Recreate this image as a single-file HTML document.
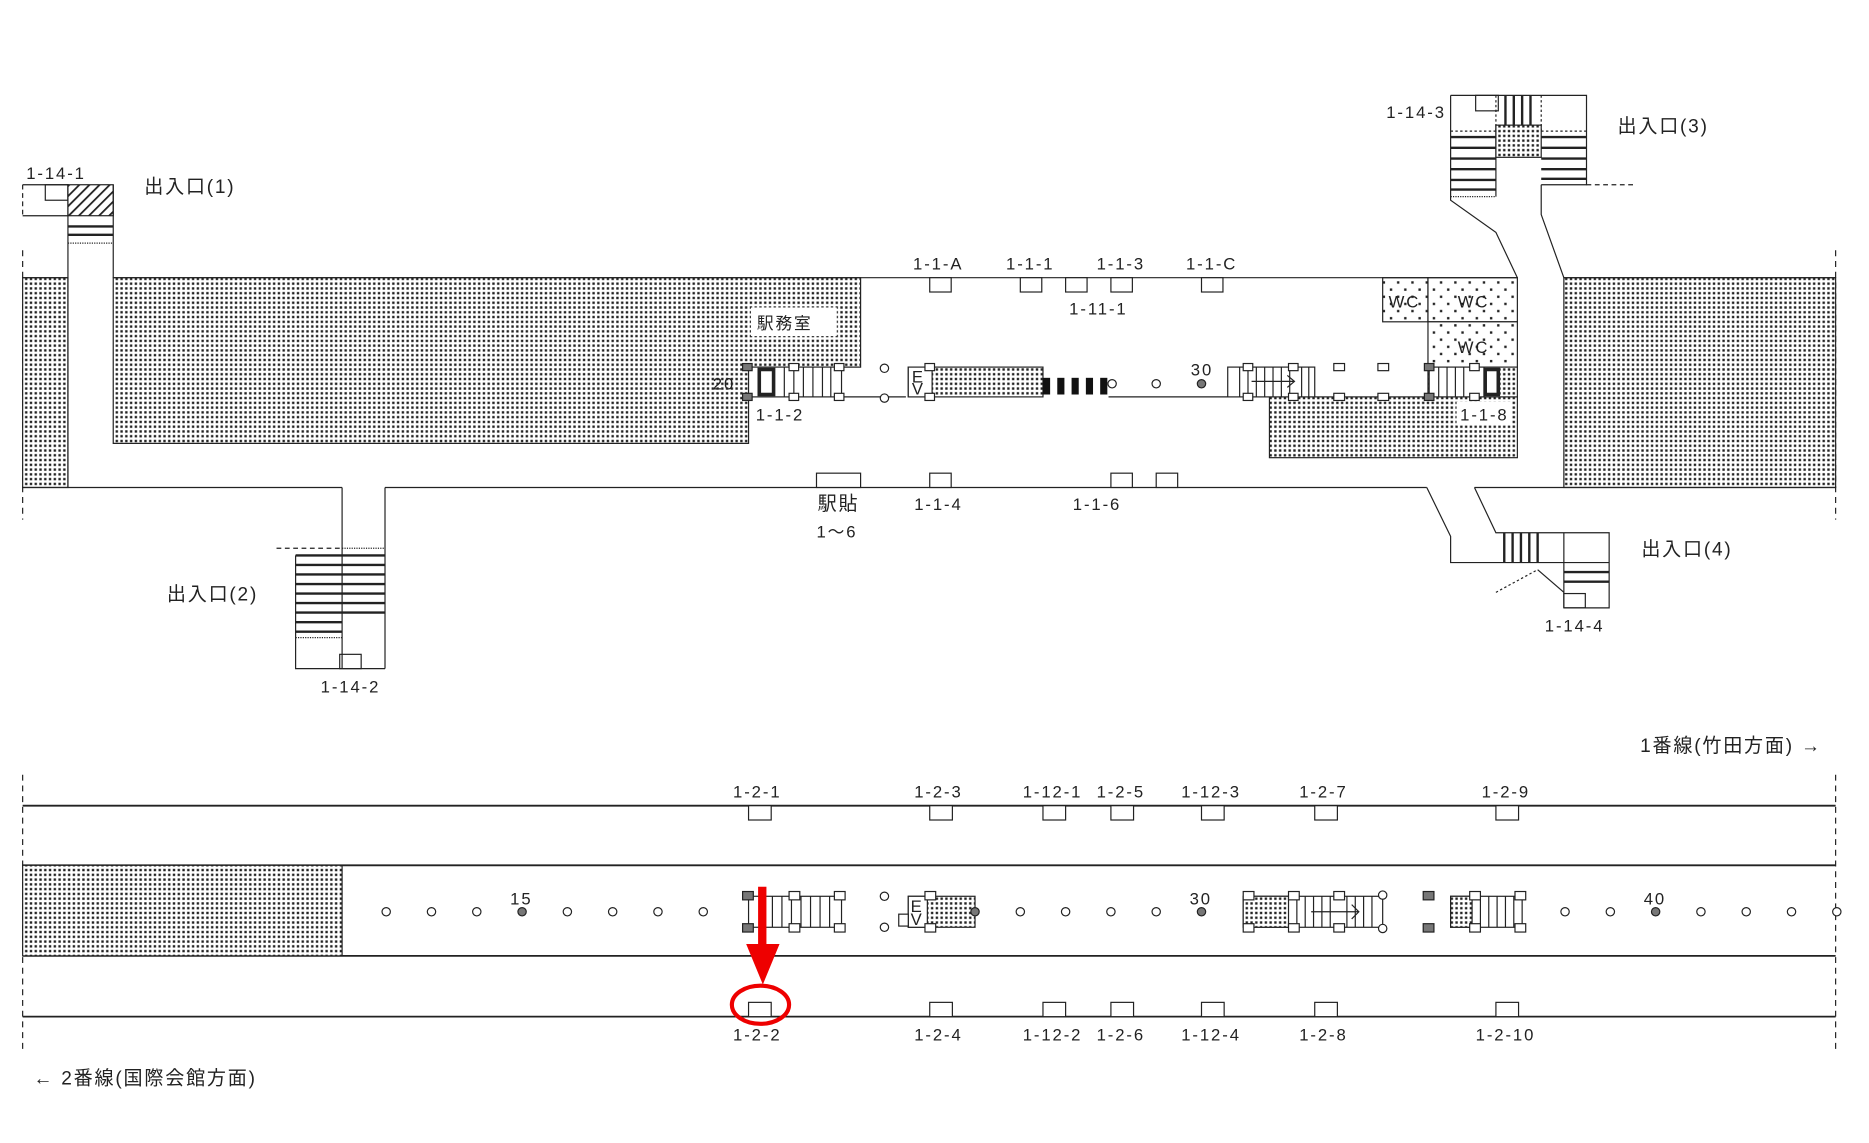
<!DOCTYPE html>
<html><head><meta charset="utf-8"><style>
html,body{margin:0;padding:0;background:#fff;}
svg{display:block;}
text{font-family:"Liberation Sans","Noto Sans CJK JP",sans-serif;font-size:14px;fill:#222;letter-spacing:1.6px;}
.j{font-size:16px;letter-spacing:1.5px;}
</style></head><body>
<svg width="1869" height="1143" viewBox="0 0 1568 959" preserveAspectRatio="none" xmlns="http://www.w3.org/2000/svg">
<defs>
<pattern id="d" width="4" height="4" patternUnits="userSpaceOnUse"><rect width="4" height="4" fill="#fff"/><rect x="1" y="1" width="2" height="2" fill="#222"/></pattern>
<pattern id="ld" width="12" height="12" patternUnits="userSpaceOnUse"><rect width="12" height="12" fill="#fff"/><rect x="2" y="2" width="2" height="2" fill="#222"/><rect x="8" y="8" width="2" height="2" fill="#222"/></pattern>
<pattern id="h" width="6" height="6" patternUnits="userSpaceOnUse" patternTransform="rotate(45)"><rect width="6" height="6" fill="#fff"/><rect width="1.5" height="6" fill="#222"/></pattern>
</defs>
<g stroke="#222" stroke-width="1" fill="none">
<line x1="19" y1="210" x2="19" y2="436" stroke-dasharray="5,4"/>
<line x1="1540" y1="210" x2="1540" y2="436" stroke-dasharray="5,4"/>
<rect x="19" y="233" width="38" height="176" fill="url(#d)"/>
<path d="M95 233 H722 V308 H628 V372 H95 Z" fill="url(#d)"/>
<rect x="1312" y="233" width="228" height="176" fill="url(#d)"/>
<rect x="1065" y="333" width="208" height="51" fill="url(#d)"/>
<rect x="1160" y="233" width="38" height="37" fill="url(#ld)"/>
<rect x="1198" y="233" width="75" height="37" fill="url(#ld)"/>
<rect x="1198" y="270" width="75" height="38" fill="url(#ld)"/>
<rect x="1198" y="308" width="75" height="25" fill="url(#d)"/>
<line x1="19" y1="233" x2="57" y2="233"/>
<line x1="95" y1="233" x2="1273" y2="233"/>
<line x1="1312" y1="233" x2="1540" y2="233"/>
<line x1="19" y1="409" x2="287" y2="409"/>
<line x1="323" y1="409" x2="1197" y2="409"/>
<line x1="1237" y1="409" x2="1540" y2="409"/>
<line x1="57" y1="181" x2="57" y2="409"/>
<line x1="705" y1="333" x2="760" y2="333"/>
<line x1="930" y1="333" x2="1065" y2="333"/>
<path d="M19 155 H57 V181 H19" />
<line x1="19" y1="155" x2="19" y2="181" stroke-dasharray="4,3"/>
<rect x="38" y="155" width="19" height="13"/>
<rect x="57" y="155" width="38" height="26" fill="url(#h)"/>
<line x1="95" y1="155" x2="95" y2="233"/>
<line x1="57" y1="190" x2="95" y2="190" stroke-width="2"/>
<line x1="57" y1="197" x2="95" y2="197" stroke-width="2"/>
<line x1="57" y1="204" x2="95" y2="204" stroke-dasharray="1,1"/>
<line x1="287" y1="409" x2="287" y2="561"/>
<line x1="323" y1="409" x2="323" y2="561"/>
<line x1="232" y1="460" x2="287" y2="460" stroke-dasharray="4,3"/>
<line x1="287" y1="460" x2="323" y2="460" stroke-dasharray="1,1"/>
<path d="M248 466 V561 H323"/>
<g stroke-width="2">
<line x1="248" y1="466" x2="323" y2="466"/><line x1="248" y1="474" x2="323" y2="474"/><line x1="248" y1="482" x2="323" y2="482"/><line x1="248" y1="490" x2="323" y2="490"/><line x1="248" y1="498" x2="323" y2="498"/><line x1="248" y1="506" x2="323" y2="506"/><line x1="248" y1="514" x2="323" y2="514"/><line x1="248" y1="522" x2="287" y2="522"/><line x1="248" y1="530" x2="287" y2="530"/>
</g>
<line x1="248" y1="535" x2="287" y2="535" stroke-dasharray="1,1"/>
<rect x="285" y="549" width="18" height="12"/>
<path d="M1217 80 H1331 V155 H1293"/>
<path d="M1217 80 V168 L1255 195 L1273 233"/>
<path d="M1293 155 V180 L1312 233"/>
<rect x="1238" y="80" width="19" height="13"/>
<line x1="1217" y1="110" x2="1331" y2="110" stroke-dasharray="2,2"/>
<line x1="1255" y1="80" x2="1255" y2="110" stroke-dasharray="2,2"/>
<line x1="1293" y1="80" x2="1293" y2="110" stroke-dasharray="2,2"/>
<g stroke-width="2"><line x1="1263" y1="80" x2="1263" y2="105"/><line x1="1270" y1="80" x2="1270" y2="105"/><line x1="1277" y1="80" x2="1277" y2="105"/><line x1="1284" y1="80" x2="1284" y2="105"/></g>
<rect x="1255" y="105" width="38" height="27" fill="url(#d)"/>
<line x1="1255" y1="105" x2="1255" y2="165"/>
<g stroke-width="2">
<line x1="1217" y1="115" x2="1255" y2="115"/><line x1="1217" y1="124" x2="1255" y2="124"/><line x1="1217" y1="133" x2="1255" y2="133"/><line x1="1217" y1="142" x2="1255" y2="142"/><line x1="1217" y1="151" x2="1255" y2="151"/><line x1="1217" y1="159" x2="1255" y2="159"/>
<line x1="1293" y1="115" x2="1331" y2="115"/><line x1="1293" y1="124" x2="1331" y2="124"/><line x1="1293" y1="133" x2="1331" y2="133"/><line x1="1293" y1="142" x2="1331" y2="142"/><line x1="1293" y1="150" x2="1331" y2="150"/>
</g>
<line x1="1217" y1="165" x2="1255" y2="165" stroke-dasharray="1,1"/>
<line x1="1331" y1="155" x2="1370" y2="155" stroke-dasharray="4,3"/>
<path d="M1197 409 L1217 450 V472 H1350"/>
<path d="M1237 409 L1255 447 H1350 V510 H1312"/>
<g stroke-width="2"><line x1="1262" y1="447" x2="1262" y2="472"/><line x1="1269" y1="447" x2="1269" y2="472"/><line x1="1276" y1="447" x2="1276" y2="472"/><line x1="1283" y1="447" x2="1283" y2="472"/><line x1="1290" y1="447" x2="1290" y2="472"/><line x1="1312" y1="480" x2="1350" y2="480" /><line x1="1312" y1="488" x2="1350" y2="488"/></g>
<line x1="1312" y1="447" x2="1312" y2="510"/>
<line x1="1255" y1="497" x2="1290" y2="478" stroke-dasharray="2,2"/>
<path d="M1290 478 L1312 497"/>
<rect x="1312" y="498" width="18" height="12"/>
<rect x="630" y="258" width="72" height="24" fill="#fff" stroke="none"/>
<rect x="1222" y="337" width="46" height="20" fill="#fff" stroke="none"/>
<rect x="780" y="233" width="18" height="12" fill="#fff"/>
<rect x="856" y="233" width="18" height="12" fill="#fff"/>
<rect x="894" y="233" width="18" height="12" fill="#fff"/>
<rect x="932" y="233" width="18" height="12" fill="#fff"/>
<rect x="1008" y="233" width="18" height="12" fill="#fff"/>
<rect x="685" y="397" width="37" height="12" fill="#fff"/>
<rect x="780" y="397" width="18" height="12" fill="#fff"/>
<rect x="932" y="397" width="18" height="12" fill="#fff"/>
<rect x="970" y="397" width="18" height="12" fill="#fff"/>
<rect x="628" y="308" width="78" height="25" fill="#fff"/>
<rect x="637" y="310" width="12" height="21" stroke-width="3"/>
<g><line x1="658" y1="308" x2="658" y2="333"/><line x1="666" y1="308" x2="666" y2="333"/><line x1="674" y1="308" x2="674" y2="333"/><line x1="682" y1="308" x2="682" y2="333"/><line x1="690" y1="308" x2="690" y2="333"/><line x1="697" y1="308" x2="697" y2="333"/></g>
<rect x="623" y="305" width="8" height="6" fill="#777"/><rect x="623" y="330" width="8" height="6" fill="#777"/>
<rect x="662" y="305" width="8" height="6" fill="#fff"/><rect x="662" y="330" width="8" height="6" fill="#fff"/>
<rect x="700" y="305" width="8" height="6" fill="#fff"/><rect x="700" y="330" width="8" height="6" fill="#fff"/>
<circle cx="742" cy="309" r="3.5" fill="#fff"/><circle cx="742" cy="334" r="3.5" fill="#fff"/>
<rect x="762" y="308" width="113" height="25" fill="url(#d)"/>
<rect x="762" y="308" width="20" height="25" fill="#fff"/>
<rect x="776" y="305" width="8" height="6" fill="#fff"/><rect x="776" y="330" width="8" height="6" fill="#fff"/>
<g fill="#111" stroke="none"><rect x="875" y="317" width="6" height="14"/><rect x="887" y="317" width="6" height="14"/><rect x="899" y="317" width="6" height="14"/><rect x="911" y="317" width="6" height="14"/><rect x="923" y="317" width="6" height="14"/></g>
<circle cx="933" cy="322" r="3.5" fill="#fff"/><circle cx="970" cy="322" r="3.5" fill="#fff"/><circle cx="1008" cy="322" r="3.5" fill="#777"/>
<rect x="1030" y="308" width="73" height="25" fill="#fff"/>
<g><line x1="1040" y1="308" x2="1040" y2="333"/><line x1="1047" y1="308" x2="1047" y2="333"/><line x1="1054" y1="308" x2="1054" y2="333"/><line x1="1061" y1="308" x2="1061" y2="333"/><line x1="1068" y1="308" x2="1068" y2="333"/><line x1="1075" y1="308" x2="1075" y2="333"/><line x1="1082" y1="308" x2="1082" y2="333"/><line x1="1092" y1="308" x2="1092" y2="333"/><line x1="1098" y1="308" x2="1098" y2="333"/></g>
<path d="M1050 320 H1086 M1080 315 L1086 320 L1080 325"/>
<rect x="1043" y="305" width="8" height="6" fill="#fff"/><rect x="1043" y="330" width="8" height="6" fill="#fff"/>
<rect x="1081" y="305" width="8" height="6" fill="#fff"/><rect x="1081" y="330" width="8" height="6" fill="#fff"/>
<rect x="1119" y="305" width="9" height="6" fill="#fff"/><rect x="1119" y="330" width="9" height="6" fill="#fff"/>
<rect x="1156" y="305" width="9" height="6" fill="#fff"/><rect x="1156" y="330" width="9" height="6" fill="#fff"/>
<rect x="1199" y="308" width="46" height="25" fill="#fff"/>
<g><line x1="1207" y1="308" x2="1207" y2="333"/><line x1="1214" y1="308" x2="1214" y2="333"/><line x1="1221" y1="308" x2="1221" y2="333"/><line x1="1228" y1="308" x2="1228" y2="333"/></g>
<rect x="1246" y="310" width="11" height="21" stroke-width="3" fill="#fff"/>
<rect x="1195" y="305" width="8" height="6" fill="#777"/><rect x="1195" y="330" width="8" height="6" fill="#777"/>
<rect x="1233" y="305" width="8" height="6" fill="#fff"/><rect x="1233" y="330" width="8" height="6" fill="#fff"/>

<line x1="19" y1="650" x2="19" y2="880" stroke-dasharray="5,4"/>
<line x1="1540" y1="650" x2="1540" y2="880" stroke-dasharray="5,4"/>
<line x1="19" y1="676" x2="1540" y2="676" stroke-width="1.5"/>
<line x1="19" y1="726" x2="1540" y2="726" stroke-width="1.5"/>
<line x1="19" y1="802" x2="1540" y2="802" stroke-width="1.5"/>
<line x1="19" y1="853" x2="1540" y2="853" stroke-width="1.5"/>
<rect x="19" y="726" width="268" height="76" fill="url(#d)"/>
<g fill="#fff">
<rect x="628" y="676" width="19" height="12"/><rect x="780" y="676" width="19" height="12"/><rect x="875" y="676" width="19" height="12"/><rect x="932" y="676" width="19" height="12"/><rect x="1008" y="676" width="19" height="12"/><rect x="1103" y="676" width="19" height="12"/><rect x="1255" y="676" width="19" height="12"/>
<rect x="628" y="841" width="19" height="12"/><rect x="780" y="841" width="19" height="12"/><rect x="875" y="841" width="19" height="12"/><rect x="932" y="841" width="19" height="12"/><rect x="1008" y="841" width="19" height="12"/><rect x="1103" y="841" width="19" height="12"/><rect x="1255" y="841" width="19" height="12"/>
</g>
<g fill="#fff">
<circle cx="324" cy="765" r="3.5"/><circle cx="362" cy="765" r="3.5"/><circle cx="400" cy="765" r="3.5"/><circle cx="438" cy="765" r="3.5" fill="#777"/><circle cx="476" cy="765" r="3.5"/><circle cx="514" cy="765" r="3.5"/><circle cx="552" cy="765" r="3.5"/><circle cx="590" cy="765" r="3.5"/>
<circle cx="856" cy="765" r="3.5"/><circle cx="894" cy="765" r="3.5"/><circle cx="932" cy="765" r="3.5"/><circle cx="970" cy="765" r="3.5"/><circle cx="1008" cy="765" r="3.5" fill="#777"/>
<circle cx="1313" cy="765" r="3.5"/><circle cx="1351" cy="765" r="3.5"/><circle cx="1389" cy="765" r="3.5" fill="#777"/><circle cx="1427" cy="765" r="3.5"/><circle cx="1465" cy="765" r="3.5"/><circle cx="1503" cy="765" r="3.5"/><circle cx="1541" cy="765" r="3.5"/>
<circle cx="742" cy="752" r="3.5"/><circle cx="742" cy="778" r="3.5"/>
</g>
<rect x="628" y="752" width="78" height="26" fill="#fff"/>
<g><line x1="640" y1="752" x2="640" y2="778"/><line x1="648" y1="752" x2="648" y2="778"/><line x1="656" y1="752" x2="656" y2="778"/><line x1="664" y1="752" x2="664" y2="778"/><line x1="672" y1="752" x2="672" y2="778"/><line x1="680" y1="752" x2="680" y2="778"/><line x1="688" y1="752" x2="688" y2="778"/><line x1="696" y1="752" x2="696" y2="778"/></g>
<rect x="623" y="748" width="9" height="7" fill="#777"/><rect x="623" y="775" width="9" height="7" fill="#777"/>
<rect x="662" y="748" width="9" height="7" fill="#fff"/><rect x="662" y="775" width="9" height="7" fill="#fff"/>
<rect x="700" y="748" width="9" height="7" fill="#fff"/><rect x="700" y="775" width="9" height="7" fill="#fff"/>
<rect x="762" y="752" width="56" height="26" fill="url(#d)"/>
<rect x="762" y="752" width="16" height="26" fill="#fff"/>
<rect x="754" y="767" width="8" height="10" fill="#fff"/>
<rect x="776" y="748" width="9" height="7" fill="#fff"/><rect x="776" y="775" width="9" height="7" fill="#fff"/>
<circle cx="818" cy="765" r="3.5" fill="#777"/>
<rect x="1043" y="752" width="117" height="26" fill="#fff"/>
<rect x="1043" y="752" width="38" height="26" fill="url(#d)"/>
<g><line x1="1088" y1="752" x2="1088" y2="778"/><line x1="1095" y1="752" x2="1095" y2="778"/><line x1="1102" y1="752" x2="1102" y2="778"/><line x1="1109" y1="752" x2="1109" y2="778"/><line x1="1116" y1="752" x2="1116" y2="778"/><line x1="1130" y1="752" x2="1130" y2="778"/><line x1="1137" y1="752" x2="1137" y2="778"/><line x1="1144" y1="752" x2="1144" y2="778"/><line x1="1151" y1="752" x2="1151" y2="778"/></g>
<path d="M1100 765 H1140 M1134 759 L1140 765 L1134 771"/>
<rect x="1043" y="748" width="9" height="7" fill="#fff"/><rect x="1043" y="775" width="9" height="7" fill="#fff"/>
<rect x="1081" y="748" width="9" height="7" fill="#fff"/><rect x="1081" y="775" width="9" height="7" fill="#fff"/>
<rect x="1119" y="748" width="9" height="7" fill="#fff"/><rect x="1119" y="775" width="9" height="7" fill="#fff"/>
<circle cx="1160" cy="751" r="3.5" fill="#fff"/><circle cx="1160" cy="779" r="3.5" fill="#fff"/>
<rect x="1194" y="748" width="9" height="7" fill="#777"/><rect x="1194" y="775" width="9" height="7" fill="#777"/>
<rect x="1217" y="752" width="60" height="26" fill="#fff"/>
<rect x="1217" y="752" width="18" height="26" fill="url(#d)"/>
<g><line x1="1242" y1="752" x2="1242" y2="778"/><line x1="1249" y1="752" x2="1249" y2="778"/><line x1="1256" y1="752" x2="1256" y2="778"/><line x1="1263" y1="752" x2="1263" y2="778"/><line x1="1270" y1="752" x2="1270" y2="778"/></g>
<rect x="1233" y="748" width="9" height="7" fill="#fff"/><rect x="1233" y="775" width="9" height="7" fill="#fff"/>
<rect x="1271" y="748" width="9" height="7" fill="#fff"/><rect x="1271" y="775" width="9" height="7" fill="#fff"/>
</g>
<rect x="636" y="744" width="7" height="52" fill="#e00"/>
<polygon points="626,792 654,792 640,826" fill="#e00"/>
<ellipse cx="638" cy="843" rx="24" ry="16" fill="none" stroke="#e00" stroke-width="3.5"/>
<g>
<text x="22" y="150">1-14-1</text>
<text x="121" y="162" class="j">出入口(1)</text>
<text x="635" y="276" font-size="16" letter-spacing="4">駅務室</text>
<text x="598" y="327" font-size="12" letter-spacing="0">20</text>
<text x="634" y="353">1-1-2</text>
<text x="766" y="226">1-1-A</text>
<text x="844" y="226">1-1-1</text>
<text x="920" y="226">1-1-3</text>
<text x="995" y="226">1-1-C</text>
<text x="897" y="264">1-11-1</text>
<text x="999" y="315" font-size="13" letter-spacing="0">30</text>
<text x="1165" y="258" font-size="12" letter-spacing="0">WC</text>
<text x="1223" y="258" font-size="12" letter-spacing="0">WC</text>
<text x="1223" y="296" font-size="12" letter-spacing="0">WC</text>
<text x="1225" y="353">1-1-8</text>
<text x="686" y="428" class="j" letter-spacing="0">駅貼</text>
<text x="685" y="451">1〜6</text>
<text x="767" y="428">1-1-4</text>
<text x="900" y="428">1-1-6</text>
<text x="1163" y="99">1-14-3</text>
<text x="1357" y="111" class="j">出入口(3)</text>
<text x="140" y="504" class="j">出入口(2)</text>
<text x="269" y="581">1-14-2</text>
<text x="1377" y="466" class="j">出入口(4)</text>
<text x="1296" y="530">1-14-4</text>
<text x="1376" y="631" class="j">1番線(竹田方面) →</text>
<text x="615" y="669">1-2-1</text>
<text x="767" y="669">1-2-3</text>
<text x="858" y="669">1-12-1</text>
<text x="920" y="669">1-2-5</text>
<text x="991" y="669">1-12-3</text>
<text x="1090" y="669">1-2-7</text>
<text x="1243" y="669">1-2-9</text>
<text x="428" y="759" font-size="13" letter-spacing="0">15</text>
<text x="998" y="759" font-size="13" letter-spacing="0">30</text>
<text x="1379" y="759" font-size="13" letter-spacing="0">40</text>
<text x="764" y="765" font-size="10" letter-spacing="0">E</text>
<text x="764" y="776" font-size="10" letter-spacing="0">V</text>
<text x="765" y="321" font-size="10" letter-spacing="0">E</text>
<text x="765" y="331" font-size="10" letter-spacing="0">V</text>
<text x="615" y="873">1-2-2</text>
<text x="767" y="873">1-2-4</text>
<text x="858" y="873">1-12-2</text>
<text x="920" y="873">1-2-6</text>
<text x="991" y="873">1-12-4</text>
<text x="1090" y="873">1-2-8</text>
<text x="1238" y="873">1-2-10</text>
<text x="28" y="910" class="j">←  2番線(国際会館方面)</text>
</g>
</svg>
</body></html>
